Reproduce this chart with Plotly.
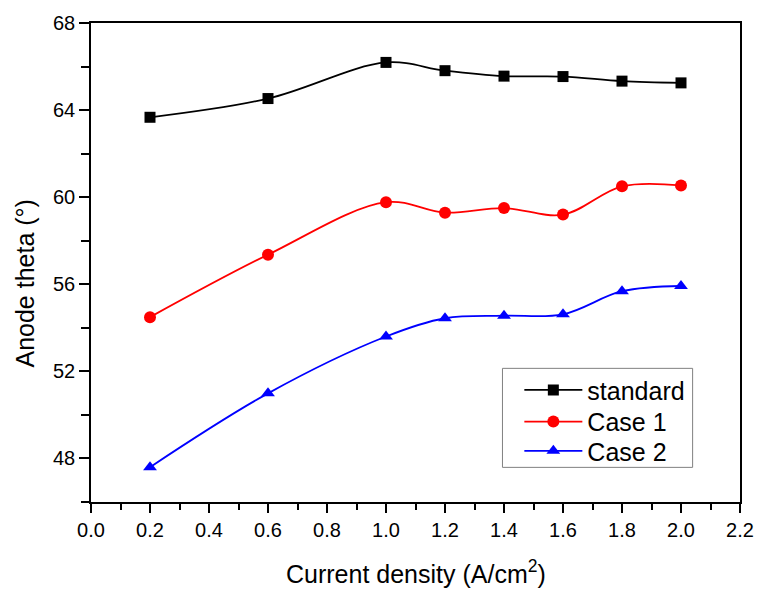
import plotly.graph_objects as go

current_density = [0.2, 0.6, 1.0, 1.2, 1.4, 1.6, 1.8, 2.0]
standard = [63.67, 64.53, 66.19, 65.81, 65.56, 65.54, 65.33, 65.25]
case1 = [54.49, 57.36, 59.77, 59.29, 59.50, 59.20, 60.50, 60.54]
case2 = [47.60, 50.99, 53.60, 54.44, 54.56, 54.62, 55.68, 55.92]

series_names = ["standard", "Case 1", "Case 2"]
series_colors = ["#000000", "#FF0000", "#0000FF"]
series_symbols = ["square", "circle", "triangle-up"]
series_sizes = [11, 12, 12]
legend_ids = ["legend", "legend2", "legend3"]
legend_rows_y = [0.2335, 0.1674, 0.1064]

FONT = "Arial, Liberation Sans, sans-serif"

fig = go.Figure()
for name, vals, col, sym, sz, lg in zip(series_names, [standard, case1, case2],
                                         series_colors, series_symbols, series_sizes, legend_ids):
    fig.add_trace(go.Scatter(
        x=current_density, y=vals, name=name, mode="lines+markers",
        line=dict(color=col, width=1.8, shape="spline", smoothing=1.0),
        marker=dict(color=col, symbol=sym, size=sz, line=dict(width=0)),
        legend=lg,
    ))

legend_common = dict(
    x=0.660, xanchor="left", yanchor="middle",
    bgcolor="rgba(0,0,0,0)", borderwidth=0,
    font=dict(size=25, family=FONT, color="black"),
    itemwidth=58,
)
fig.update_layout(
    width=766, height=594,
    margin=dict(l=91, r=19, t=18, b=92),
    paper_bgcolor="white", plot_bgcolor="white",
    font=dict(family=FONT, color="black"),
    showlegend=True,
    legend=dict(y=legend_rows_y[0], **legend_common),
    legend2=dict(y=legend_rows_y[1], **legend_common),
    legend3=dict(y=legend_rows_y[2], **legend_common),
)

# legend frame
fig.add_shape(type="rect", xref="paper", yref="paper",
              x0=0.634, x1=0.927, y0=0.0723, y1=0.279,
              line=dict(color="#808080", width=1), fillcolor="rgba(0,0,0,0)", layer="below")

fig.update_xaxes(
    range=[0, 2.2], tick0=0, dtick=0.2, tickformat=".1f",
    showgrid=False, zeroline=False,
    showline=True, linecolor="black", linewidth=1.5, mirror=True,
    ticks="outside", ticklen=9, tickwidth=1.5, tickcolor="black",
    tickfont=dict(size=20, family=FONT, color="black"),
    minor=dict(dtick=0.1, ticks="outside", ticklen=6, tickwidth=1.5, tickcolor="black", showgrid=False),
)
fig.update_yaxes(
    range=[46, 68], tick0=48, dtick=4,
    showgrid=False, zeroline=False,
    showline=True, linecolor="black", linewidth=1.5, mirror=True,
    ticks="outside", ticklen=10, tickwidth=1.5, tickcolor="black",
    tickfont=dict(size=20, family=FONT, color="black"),
    minor=dict(dtick=2, ticks="outside", ticklen=8, tickwidth=1.5, tickcolor="black", showgrid=False),
)

fig.add_annotation(
    text="Current density (A/cm<sup>2</sup>)", xref="paper", yref="paper",
    x=0.5, y=-0.147, xanchor="center", yanchor="middle", showarrow=False,
    font=dict(size=25, family=FONT, color="black"),
)
fig.add_annotation(
    text="Anode theta (°)", xref="paper", yref="paper",
    x=-0.101, y=0.457, xanchor="center", yanchor="middle", showarrow=False,
    textangle=-90, font=dict(size=25, family=FONT, color="black"),
)

fig.write_html("out.html")
